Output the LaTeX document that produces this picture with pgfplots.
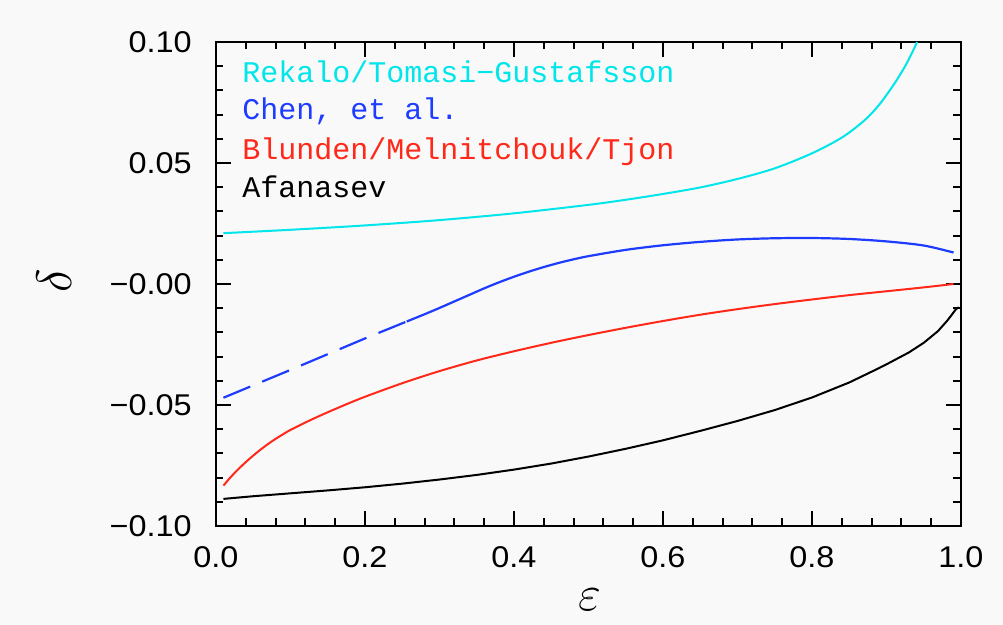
\documentclass[border=0pt]{standalone}
\usepackage{fontspec}
\usepackage{pgfplots}
\pgfplotsset{compat=1.18}
\newfontfamily\helv[FakeStretch=1.08]{Liberation Sans}
\newfontfamily\mono{Liberation Mono}
\definecolor{bgcol}{RGB}{249,249,249}
\definecolor{ccyan}{RGB}{0,230,235}
\definecolor{cblue}{RGB}{30,60,255}
\definecolor{cred}{RGB}{255,40,25}

\pgfplotstableread{
x y
0.01 0.0210
0.10 0.0224
0.20 0.0242
0.30 0.0264
0.40 0.0292
0.50 0.0327
0.55 0.0348
0.60 0.0372
0.65 0.0399
0.70 0.0434
0.75 0.0478
0.80 0.0540
0.84 0.0605
0.87 0.0675
0.89 0.0740
0.91 0.0825
0.925 0.0900
0.935 0.0960
0.941 0.1000
}\rekalo

\pgfplotstableread{
x y
0.01 -0.0470
0.10 -0.0355
0.20 -0.0225
0.256 -0.0155
}\chendash

\pgfplotstableread{
x y
0.256 -0.0155
0.28 -0.0125
0.30 -0.0099
0.32 -0.0072
0.34 -0.0045
0.36 -0.0018
0.38 0.0007
0.40 0.0030
0.42 0.0051
0.44 0.0070
0.46 0.0087
0.48 0.0102
0.50 0.0115
0.55 0.0141
0.60 0.0160
0.65 0.0174
0.70 0.0184
0.75 0.0189
0.80 0.0190
0.85 0.0186
0.90 0.0176
0.95 0.0159
0.99 0.0130
}\chensolid

\pgfplotstableread{
x y
0.01 -0.0833
0.02 -0.0797
0.03 -0.0765
0.04 -0.0736
0.05 -0.0709
0.06 -0.0684
0.07 -0.0661
0.08 -0.0640
0.09 -0.0621
0.10 -0.0603
0.125 -0.0565
0.15 -0.0530
0.175 -0.0497
0.20 -0.0466
0.25 -0.0410
0.30 -0.0360
0.35 -0.0316
0.40 -0.0278
0.45 -0.0243
0.50 -0.0211
0.55 -0.0181
0.60 -0.0153
0.65 -0.0127
0.70 -0.0104
0.75 -0.0083
0.80 -0.0064
0.85 -0.0046
0.90 -0.0030
0.95 -0.0014
0.99 0.0000
}\blunden

\pgfplotstableread{
x y
0.01 -0.0888
0.05 -0.0877
0.10 -0.0865
0.15 -0.0853
0.20 -0.0840
0.25 -0.0825
0.30 -0.0808
0.35 -0.0789
0.40 -0.0767
0.45 -0.0742
0.50 -0.0713
0.55 -0.0681
0.60 -0.0646
0.65 -0.0607
0.70 -0.0566
0.75 -0.0521
0.80 -0.0469
0.85 -0.0407
0.885 -0.0355
0.90 -0.0332
0.93 -0.0283
0.95 -0.0243
0.969 -0.0195
0.982 -0.0150
0.993 -0.0105
0.997 -0.0096
}\afanasev

\begin{document}
\begin{tikzpicture}
\fill[bgcol] (-108pt,-49.5pt) rectangle (393.5pt,263pt);
\useasboundingbox (-108pt,-49.5pt) rectangle (393.5pt,263pt);
\begin{axis}[
  scale only axis,
  width=372.5pt, height=242pt,
  xmin=0, xmax=1, ymin=-0.1, ymax=0.1,
  xtick={0,0.2,0.4,0.6,0.8,1},
  xticklabels={0.0,0.2,0.4,0.6,0.8,1.0},
  ytick={-0.1,-0.05,0,0.05,0.1},
  yticklabels={−0.10,−0.05,−0.00,0.05,0.10},
  minor x tick num=4, minor y tick num=4,
  tick align=inside,
  major tick length=7.5pt, minor tick length=3.75pt,
  every tick/.style={black, line width=1pt},
  axis line style={line width=1.4pt},
  tick label style={font=\fontsize{15}{17}\selectfont\helv},
  xticklabel style={anchor=north, inner sep=0pt, yshift=-10pt},
  yticklabel style={anchor=east, inner sep=0pt, xshift=-12pt},
  xlabel={$\varepsilon$},
  ylabel={$\delta$},
  label style={font=\fontsize{24}{26}\selectfont},
  xlabel style={at={(rel axis cs:0.502,0)}, anchor=center, yshift=-37pt},
  ylabel style={at={(rel axis cs:0,0.507)}, anchor=center, yshift=81pt},
  axis background/.style={fill=bgcol},
]
\addplot[ccyan, line width=1pt, smooth, tension=0.5] table {\rekalo};
\addplot[cblue, line width=1.1pt, dash pattern=on 14.5pt off 6.5pt] table {\chendash};
\addplot[cblue, line width=1.1pt, smooth, tension=0.5] table {\chensolid};
\addplot[cred, line width=1pt, smooth, tension=0.5] table {\blunden};
\addplot[black, line width=1pt] table {\afanasev};
\node[anchor=base west, inner sep=0pt, text=ccyan, font=\fontsize{15}{17}\selectfont\mono] at (axis cs:0.035,0.0834) {Rekalo/Tomasi−Gustafsson};
\node[anchor=base west, inner sep=0pt, text=cblue, font=\fontsize{15}{17}\selectfont\mono] at (axis cs:0.035,0.0679) {Chen, et al.};
\node[anchor=base west, inner sep=0pt, text=cred, font=\fontsize{15}{17}\selectfont\mono] at (axis cs:0.035,0.0513) {Blunden/Melnitchouk/Tjon};
\node[anchor=base west, inner sep=0pt, text=black, font=\fontsize{15}{17}\selectfont\mono] at (axis cs:0.035,0.0359) {Afanasev};
\end{axis}
\end{tikzpicture}
\end{document}
